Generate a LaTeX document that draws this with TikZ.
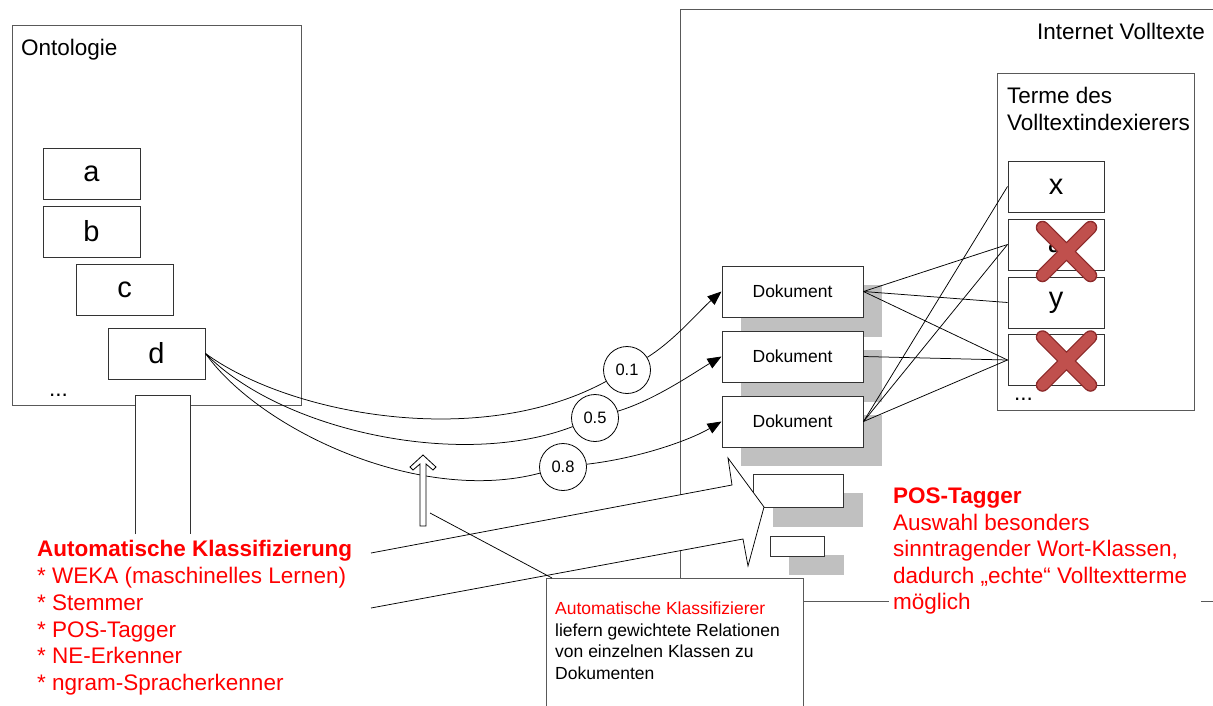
\documentclass[tikz,border=0pt]{standalone}
\usepackage{fontspec}
\setmainfont{Liberation Sans}
\usetikzlibrary{arrows.meta}
\definecolor{xred}{HTML}{C0504D}
\definecolor{xdark}{HTML}{8C2A2A}
\definecolor{shadegray}{HTML}{C0C0C0}
\definecolor{txtred}{HTML}{FF0000}
\begin{document}
\begin{tikzpicture}[x=1pt,y=-1pt,
  framebox/.style={draw=black!65, line width=1pt, inner sep=0pt},
  bx/.style={draw=black!80, line width=1pt, fill=white, inner sep=0pt},
  lbox/.style={bx, minimum width=97pt, minimum height=51pt, font=\fontsize{29}{29}\selectfont},
  tbox/.style={bx, minimum width=96pt, minimum height=51pt, font=\fontsize{29}{29}\selectfont},
  docbox/.style={bx, minimum width=141pt, minimum height=51pt, font=\fontsize{17.5}{20}\selectfont},
  shd/.style={fill=shadegray},
  wt/.style={draw, circle, line width=0.8pt, fill=white, minimum size=47pt, inner sep=0pt, font=\fontsize{16.5}{18}\selectfont},
  conn/.style={line width=0.75pt},
  arr/.style={conn, -{Triangle[length=14pt,width=11pt]}},
  lbl/.style={inner sep=0pt, anchor=base west},
  big/.style={lbl, font=\fontsize{22.5}{27}\selectfont},
  redbig/.style={big, text=txtred},
  redbold/.style={big, text=txtred, font=\fontsize{22.5}{27}\selectfont\bfseries},
  small/.style={lbl, font=\fontsize{17.5}{21.7}\selectfont},
  xline/.style={line cap=round}
]
\useasboundingbox (0,0) rectangle (1213,705);
\clip (0,0) rectangle (1213,705);
\fill[white] (0,0) rectangle (1213,705);

% frames
\node[framebox, minimum width=289pt, minimum height=380pt] (onto) at (156.5,215) {};
\draw[framebox] (680,9) rectangle (1230,601);
\node[framebox, minimum width=197pt, minimum height=337pt] (terme) at (1095.5,241.5) {};

% column below ontology
\fill[white] (135,395) rectangle (190,534);
\draw[draw=black!80, line width=1pt] (135,534) -- (135,395) -- (190,395) -- (190,534);

% ontology classes
\node[lbox] (a) at (91.5,173.5) {a};
\node[lbox] (b) at (91.5,231.5) {b};
\node[lbox] (c) at (124.5,289.5) {c};
\node[lbox] (d) at (156.5,353.5) {d};

% document shadows and boxes
\fill[shd] (741,285) rectangle (882,337);
\fill[shd] (741,350) rectangle (882,402);
\fill[shd] (741,415) rectangle (882,466);
\node[docbox] (doc1) at (792.5,291.5) {Dokument};
\node[docbox] (doc2) at (792.5,356.5) {Dokument};
\node[docbox] (doc3) at (792.5,421.5) {Dokument};

% small boxes
\fill[shd] (773,493) rectangle (863,527);
\node[bx, minimum width=90pt, minimum height=33pt] (s1) at (798,490.5) {};
\fill[shd] (789,555) rectangle (844,575);
\node[bx, minimum width=54pt, minimum height=20pt] (s2) at (797,546) {};

% terms
\node[tbox] (tx) at (1056,186.5) {x};
\node[tbox] (ta) at (1056,244.5) {a};
\node[tbox] (ty) at (1056,302.5) {y};
\node[tbox] (tb) at (1056,360) {};
\foreach \cy in {251.5,361} {
  \draw[xline, line width=13.5pt, xdark] (1042.5,\cy-24) -- (1090.5,\cy+24) (1090.5,\cy-24) -- (1042.5,\cy+24);
  \draw[xline, line width=11pt, xred] (1042.5,\cy-24) -- (1090.5,\cy+24) (1090.5,\cy-24) -- (1042.5,\cy+24);
}

% document-term relations
\draw[conn] (doc1.east) -- (ta.west);
\draw[conn] (doc1.east) -- (ty.west);
\draw[conn] (doc1.east) -- (tb.west);
\draw[conn] (doc2.east) -- (tb.west);
\draw[conn] (doc3.east) -- (tx.west);
\draw[conn] (doc3.east) -- (ta.west);
\draw[conn] (doc3.east) -- (tb.west);

% weights
\node[wt] (w1) at (627,370) {0.1};
\node[wt] (w2) at (595,418) {0.5};
\node[wt] (w3) at (563,467) {0.8};
\draw[conn] (d.east) .. controls (290,415) and (480,450) .. (w1);
\draw[arr] (w1) .. controls (675,340) and (700,310) .. (doc1.west);
\draw[conn] (d.east) .. controls (280,430) and (460,470) .. (w2);
\draw[arr] (w2) .. controls (655,400) and (695,372) .. (doc2.west);
\draw[conn] (d.east) .. controls (260,430) and (420,505) .. (w3);
\draw[arr] (w3) .. controls (640,458) and (690,440) .. (doc3.west);

% hollow up arrow
\draw[line width=0.8pt, fill=white, line join=miter]
  (420,526) -- (420,464) -- (413,470) -- (410,467) -- (423,455) -- (436,467) -- (433,470) -- (426,464) -- (426,526) -- cycle;
\coordinate (up) at (430,513);

% big callout arrow
\fill[white] (371,553) -- (732,485) -- (728,458) -- (764,507) -- (748,566) -- (743,539) -- (371,608) -- cycle;
\draw[conn] (371,553) -- (732,485) -- (728,458) -- (764,507) -- (748,566) -- (743,539) -- (371,608);

% callout box
\node[framebox, fill=white, minimum width=257pt, minimum height=150pt, anchor=north west] (call) at (546,578) {};
\draw[conn] (up) -- ([xshift=6pt]call.north west);

% texts
\node[big] (tonto) at (21,55) {Ontologie};
\node[big] (tdots1) at (49,396) {...};
\node[big, anchor=base east] (tinet) at (1205,39) {Internet Volltexte};
\node[big] (tterm1) at (1007,103) {Terme des};
\node[big] (tterm2) at (1007,130) {Volltextindexierers};
\node[big] (tdots2) at (1014,400) {...};

\node[redbold] (k0) at (37,556) {Automatische Klassifizierung};
\node[redbig] (k1) at (37,583) {* WEKA (maschinelles Lernen)};
\node[redbig] (k2) at (37,610) {* Stemmer};
\node[redbig] (k3) at (37,637) {* POS-Tagger};
\node[redbig] (k4) at (37,663) {* NE-Erkenner};
\node[redbig] (k5) at (37,690) {* ngram-Spracherkenner};

\fill[white] (889,590) rectangle (1201,613);
\node[redbold] (p0) at (893,503) {POS-Tagger};
\node[redbig] (p1) at (893,530) {Auswahl besonders};
\node[redbig] (p2) at (893,556) {sinntragender Wort-Klassen,};
\node[redbig] (p3) at (893,583) {dadurch „echte“ Volltextterme};
\node[redbig] (p4) at (893,609) {möglich};

\node[small, text=txtred] (c0) at (555,614) {Automatische Klassifizierer};
\node[small] (c1) at (555,636) {liefern gewichtete Relationen};
\node[small] (c2) at (555,657) {von einzelnen Klassen zu};
\node[small] (c3) at (555,679) {Dokumenten};
\end{tikzpicture}
\end{document}
